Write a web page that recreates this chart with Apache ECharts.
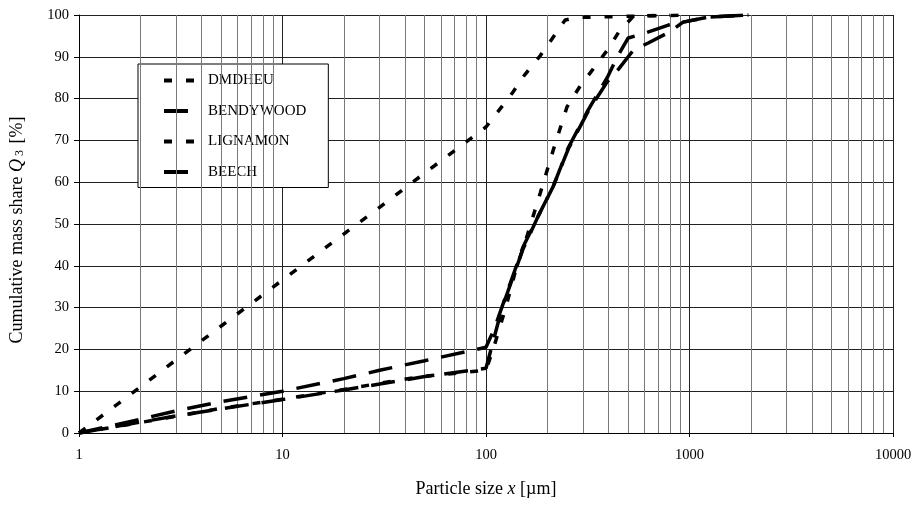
<!DOCTYPE html>
<html lang="en">
<head>
    <meta charset="UTF-8">
    <title>Cumulative mass share</title>
    <script src="https://cdn.jsdelivr.net/npm/echarts@6/dist/echarts.min.js"></script>
    <style>
        html, body { margin: 0; padding: 0; background: #fff; }
        #chart { width: 916px; height: 505px; }
    </style>
</head>
<body>
<div id="chart"></div>
<script>
    // particle size x [um] and cumulative share Q3 [%]
    var dmdheuX = [1, 2, 3, 5, 10, 20, 30, 50, 100, 115, 135, 155, 185, 245, 280, 500, 1000];
    var dmdheuY = [0, 11, 17.5, 25.6, 36.6, 47.6, 54, 62.2, 73.2, 77, 81.4, 85.7, 90.3, 98.8, 99.4, 99.7, 100];

    var bendyX = [1, 2, 3, 5, 10, 20, 30, 50, 100, 110, 152, 181, 214, 254, 318, 394, 442, 500, 607, 787, 930, 1236, 1950];
    var bendyY = [0, 3.3, 5.3, 7.5, 10, 13, 15, 17.3, 20.5, 25, 44.5, 52, 59, 68.3, 77.3, 85, 90, 94.5, 95.7, 97.6, 98.3, 99.5, 100];

    var lignamonX = [1, 2, 3, 5, 10, 20, 30, 50, 100, 110, 125, 140, 160, 185, 215, 250, 290, 335, 395, 450, 530, 800];
    var lignamonY = [0, 2.5, 4, 5.9, 8.1, 10.4, 11.9, 13.6, 15, 21, 30, 39, 47.5, 57.5, 68, 78, 83, 87, 91.6, 96, 99.7, 100];

    var beechX = [1, 2, 3, 5, 10, 20, 30, 50, 100, 120, 152, 181, 214, 254, 318, 394, 447, 530, 627, 803, 930, 1236, 1950];
    var beechY = [0, 2.6, 4.1, 5.8, 8, 10.3, 11.7, 13.5, 15.5, 30, 44, 52, 59, 68, 77, 84, 87, 91.6, 93.3, 96, 98.3, 99.5, 100];

    var xTicks = [1, 10, 100, 1000, 10000];
    var minorX = [2, 3, 4, 5, 6, 7, 8, 9, 20, 30, 40, 50, 60, 70, 80, 90,
        200, 300, 400, 500, 600, 700, 800, 900, 2000, 3000, 4000, 5000, 6000, 7000, 8000, 9000];

    var font = 'Liberation Serif';

    function pairs(xs, ys) {
        return xs.map(function (x, i) { return [x, ys[i]]; });
    }

    function lineSeries(name, xs, ys, dash) {
        return {
            name: name,
            type: 'line',
            data: pairs(xs, ys),
            symbol: 'none',
            showSymbol: false,
            z: 5,
            lineStyle: { color: '#000', width: 3.5, type: dash, cap: 'butt' },
            itemStyle: { color: '#000' }
        };
    }

    var chart = echarts.init(document.getElementById('chart'));

    var option = {
        animation: false,
        backgroundColor: '#fff',
        textStyle: { fontFamily: font, color: '#000' },
        grid: { left: 78.5, right: 23, top: 15, bottom: 72 },
        legend: {
            data: ['DMDHEU', 'BENDYWOOD', 'LIGNAMON', 'BEECH'],
            orient: 'vertical',
            left: 138,
            top: 64,
            padding: [9, 22, 8, 24],
            itemWidth: 30,
            itemHeight: 14,
            itemGap: 15.5,
            backgroundColor: '#fff',
            borderColor: '#000',
            borderWidth: 1,
            itemStyle: { opacity: 0 },
            lineStyle: { width: 4, color: '#000' },
            textStyle: { fontFamily: font, fontSize: 15, color: '#000', lineHeight: 14, padding: [0, 0, 0, 9] }
        },
        xAxis: {
            type: 'log',
            logBase: 10,
            min: 1,
            max: 10000,
            name: 'Particle size {i|x} [µm]',
            nameLocation: 'middle',
            nameGap: 47,
            nameTextStyle: {
                fontFamily: font, fontSize: 18, color: '#000',
                rich: { i: { fontFamily: font, fontSize: 18, fontStyle: 'italic', color: '#000' } }
            },
            axisLine: { lineStyle: { color: '#000', width: 1 } },
            axisTick: { show: true, length: 4, lineStyle: { color: '#000' } },
            axisLabel: {
                margin: 15,
                fontFamily: font, fontSize: 14.5, color: '#000',
                formatter: function (v) {
                    var r = Math.round(v);
                    return xTicks.indexOf(r) >= 0 ? String(r) : '';
                }
            },
            splitLine: { show: true, lineStyle: { color: '#222', width: 1 } }
        },
        yAxis: {
            type: 'value',
            min: 0,
            max: 100,
            interval: 10,
            name: 'Cumulative mass share {i|Q}{s| 3} [%]',
            nameLocation: 'middle',
            nameGap: 53,
            nameTextStyle: {
                fontFamily: font, fontSize: 18, color: '#000',
                padding: [0, 12, 0, 0],
                rich: {
                    i: { fontFamily: font, fontSize: 18, fontStyle: 'italic', color: '#000' },
                    s: { fontFamily: font, fontSize: 12, color: '#000', padding: [6, 2, 0, 0] }
                }
            },
            axisLine: { show: true, lineStyle: { color: '#000', width: 1 } },
            axisTick: { show: true, length: 5, lineStyle: { color: '#000' } },
            axisLabel: { margin: 10, fontFamily: font, fontSize: 14.5, color: '#000' },
            splitLine: { show: true, lineStyle: { color: '#222', width: 1 } }
        },
        series: [
            {
                name: 'grid',
                type: 'line',
                data: [],
                z: 1,
                silent: true,
                markLine: {
                    silent: true,
                    symbol: ['none', 'none'],
                    label: { show: false },
                    lineStyle: { color: '#7a7a7a', width: 1, type: 'solid' },
                    emphasis: { disabled: true },
                    data: minorX.map(function (v) { return { xAxis: v }; })
                }
            },
            lineSeries('DMDHEU', dmdheuX, dmdheuY, [8, 14]),
            lineSeries('BENDYWOOD', bendyX, bendyY, [24, 13]),
            lineSeries('LIGNAMON', lignamonX, lignamonY, [8, 14]),
            lineSeries('BEECH', beechX, beechY, [24, 13])
        ]
    };

    chart.setOption(option);
</script>
</body>
</html>
